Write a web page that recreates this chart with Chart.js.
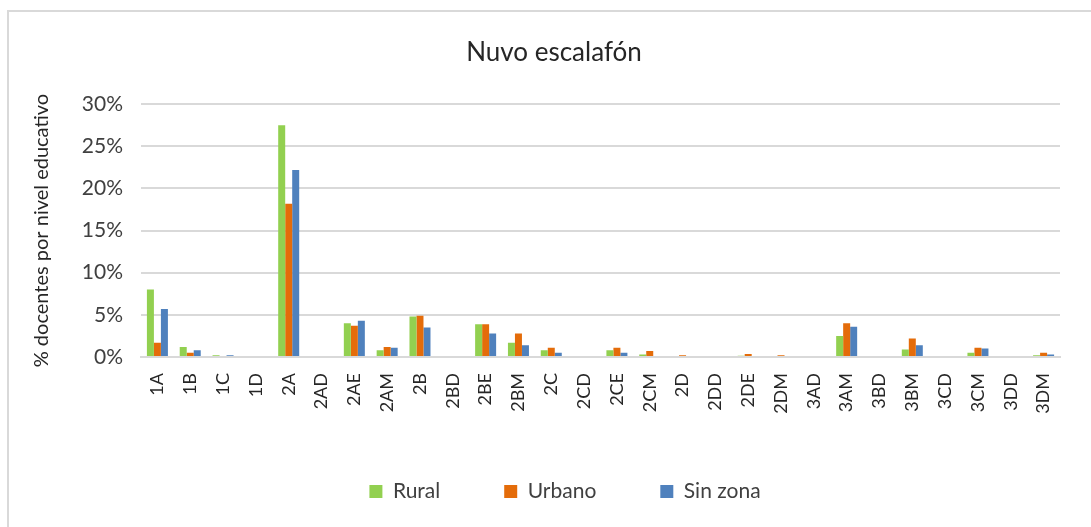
<!DOCTYPE html>
<html>
<head>
<meta charset="utf-8">
<script src="https://cdn.jsdelivr.net/npm/chart.js@4/dist/chart.umd.min.js"></script>
<style>
  body { margin: 0; background: #fff; overflow: hidden; }
  #frame { position: absolute; left: 7px; top: 10px; width: 1200px; height: 700px; border: 2px solid #d9d9d9; }
  #wrap { position: absolute; left: 0; top: 0; width: 1091px; height: 527px; }
</style>
</head>
<body>
<div id="frame"></div>
<div id="wrap"><canvas id="myChart"></canvas></div>
<script>
// Nuvo escalafón chart
const labels = ["1A", "1B", "1C", "1D", "2A", "2AD", "2AE", "2AM", "2B", "2BD", "2BE", "2BM", "2C", "2CD",
  "2CE", "2CM", "2D", "2DD", "2DE", "2DM", "3AD", "3AM", "3BD", "3BM", "3CD", "3CM", "3DD", "3DM"];

const rural = [8.0, 1.2, 0.2, 0, 27.5, 0, 4.0, 0.8, 4.8, 0, 3.9, 1.7, 0.8, 0,
  0.8, 0.3, 0, 0, 0.15, 0, 0, 2.5, 0, 0.9, 0, 0.5, 0, 0.2];
const urbano = [1.7, 0.5, 0, 0, 18.2, 0, 3.7, 1.2, 4.9, 0, 3.9, 2.8, 1.1, 0,
  1.1, 0.7, 0.2, 0, 0.35, 0.2, 0, 4.0, 0, 2.2, 0, 1.1, 0, 0.5];
const sinZona = [5.7, 0.8, 0.2, 0, 22.2, 0, 4.3, 1.1, 3.5, 0, 2.8, 1.4, 0.5, 0,
  0.5, 0, 0, 0, 0, 0, 0, 3.6, 0, 1.4, 0, 1.0, 0, 0.3];

const yTicks = [0, 5, 10, 15, 20, 25, 30];

const font = "Lato, 'Open Sans', sans-serif";
const ctx = document.getElementById("myChart").getContext("2d");

const data = {
  labels,
  datasets: [
    { label: "Rural", data: rural, backgroundColor: "#92d050" },
    { label: "Urbano", data: urbano, backgroundColor: "#e46c0a" },
    { label: "Sin zona", data: sinZona, backgroundColor: "#4f81bd" },
  ],
};

// title and legend sit a bit right of the plot center in the original
const shiftBlocks = {
  id: "shiftBlocks",
  afterLayout(chart) {
    chart.titleBlock.left += 28;
    chart.legend.left += 50;
  },
};

const config = {
  type: "bar",
  data: data,
  plugins: [shiftBlocks],
  options: {
    responsive: false,
    animation: false,
    devicePixelRatio: 1,
    categoryPercentage: 0.64,
    barPercentage: 1,
    layout: { padding: { left: 20, right: 31, top: 10, bottom: 15 } },
    plugins: {
      title: {
        display: true,
        text: "Nuvo escalafón",
        color: "#262626",
        font: { family: font, size: 26, weight: "normal" },
        padding: { top: 27, bottom: 36 },
      },
      legend: {
        position: "bottom",
        labels: {
          color: "#404040",
          boxWidth: 13,
          boxHeight: 13,
          padding: 64,
          font: { family: font, size: 21 },
        },
      },
      tooltip: { enabled: false },
    },
    scales: {
      x: {
        grid: { display: false },
        border: { color: "#d9d9d9", width: 2 },
        ticks: {
          color: "#262626",
          maxRotation: 90,
          minRotation: 90,
          autoSkip: false,
          padding: 8,
          font: { family: font, size: 18 },
        },
        afterFit: (scale) => { scale.height = 60; },
      },
      y: {
        min: 0,
        max: 30,
        afterBuildTicks: (scale) => { scale.ticks = yTicks.map((v) => ({ value: v })); },
        grid: { color: "#d9d9d9", lineWidth: 2, drawTicks: false },
        border: { display: false },
        ticks: {
          color: "#404040",
          padding: 18,
          font: { family: font, size: 21 },
          callback: function (value) {
            return value + "%";
          },
        },
        title: {
          display: true,
          text: "% docentes por nivel educativo",
          color: "#262626",
          font: { family: font, size: 20 },
          padding: { top: 10, bottom: 0 },
        },
        afterFit: (scale) => { scale.width = 121; },
      },
    },
  },
};

const canvas = document.getElementById("myChart");
canvas.width = 1091;
canvas.height = 527;
const myChart = new Chart(ctx, config);
</script>
</body>
</html>
